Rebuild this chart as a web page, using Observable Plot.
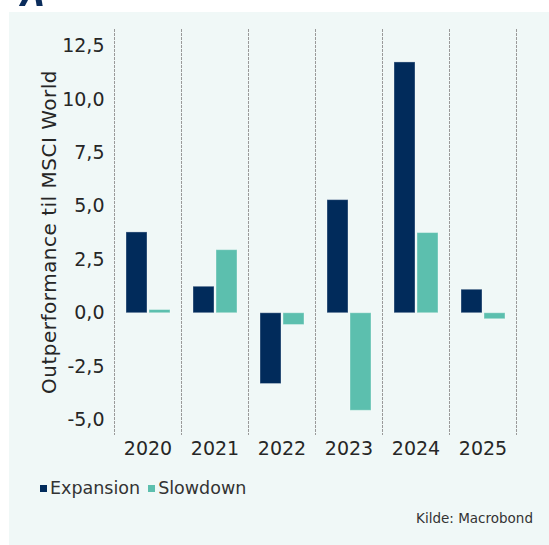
<!DOCTYPE html>
<html>
<head>
<meta charset="utf-8">
<script src="https://cdn.jsdelivr.net/npm/d3@7"></script>
<script src="https://cdn.jsdelivr.net/npm/@observablehq/plot@0.6"></script>
<style>
  body { margin: 0; background: #fff; }
  #wrap { position: relative; width: 549px; height: 545px; overflow: hidden; font-family: "DejaVu Sans", sans-serif; }
  .frag { position: absolute; top: -2px; width: 6px; height: 8px; background: #0b2d5c; }
  #panel { position: absolute; left: 9px; top: 12px; right: 0; bottom: 0; background: #f0f8f7; }
  #chart { position: absolute; left: 0; top: 0; }
  #chart g[aria-label="y-axis label"] text { font-size: 20px; letter-spacing: 0.5px; }
  #legend { position: absolute; left: 40px; top: 478px; display: flex; align-items: center; font-size: 17.5px; color: #333; }
  #legend .sw { width: 7px; height: 7px; margin-right: 3px; }
  #legend .lab { margin-right: 8px; }
  #caption { position: absolute; right: 16px; top: 510px; font-size: 13.5px; color: #333; }
</style>
</head>
<body>
<div id="wrap">
  <div class="frag" style="left:21px; transform: skewX(-28deg);"></div>
  <div class="frag" style="left:36px; transform: skewX(10deg);"></div>
  <div id="panel"></div>
  <div id="chart"></div>
  <div id="legend"></div>
  <div id="caption">Kilde: Macrobond</div>
</div>
<script>
const years = ["2020", "2021", "2022", "2023", "2024", "2025"];
const series = ["Expansion", "Slowdown"];
const expansion = [3.78, 1.24, -3.31, 5.29, 11.73, 1.10];
const slowdown = [0.15, 2.95, -0.55, -4.56, 3.75, -0.28];
const colors = ["#012b5b", "#5cbfae"];
const yTicks = [-5, -2.5, 0, 2.5, 5, 7.5, 10, 12.5];

const data = [];
years.forEach((yr, i) => {
  data.push({year: yr, series: series[0], value: expansion[i]});
  data.push({year: yr, series: series[1], value: slowdown[i]});
});

const grid = {stroke: "#9a9a9a", strokeDasharray: "2,2", strokeWidth: 1};

const chart = Plot.plot({
  width: 549,
  height: 470,
  marginTop: 29,
  marginBottom: 36,
  marginLeft: 113,
  marginRight: 33,
  style: {background: "transparent", fontFamily: "DejaVu Sans, sans-serif", fontSize: "19px", color: "#262626"},
  fx: {domain: years, padding: 0, label: null, axis: "bottom", tickSize: 0, tickPadding: 7},
  x: {domain: series, paddingInner: 0.1, paddingOuter: 0.48, axis: null},
  y: {
    domain: [-5.67, 13.27],
    ticks: yTicks,
    tickFormat: v => v.toFixed(1).replace(".", ","),
    tickSize: 0,
    tickPadding: 10,
    label: "Outperformance til MSCI World",
    labelAnchor: "center",
    labelArrow: "none",
    labelOffset: 73
  },
  color: {domain: series, range: colors},
  marks: [
    Plot.frame({anchor: "left", ...grid}),
    Plot.frame({anchor: "right", ...grid}),
    Plot.barY(data, {fx: "year", x: "series", y: "value", fill: "series", stroke: "#ffffff", strokeOpacity: 0.35, strokeWidth: 1})
  ]
});
document.getElementById("chart").appendChild(chart);

const legend = document.getElementById("legend");
series.forEach((s, i) => {
  const sw = document.createElement("span");
  sw.className = "sw";
  sw.style.background = colors[i];
  const lab = document.createElement("span");
  lab.className = "lab";
  lab.textContent = s;
  legend.appendChild(sw);
  legend.appendChild(lab);
});
</script>
</body>
</html>
